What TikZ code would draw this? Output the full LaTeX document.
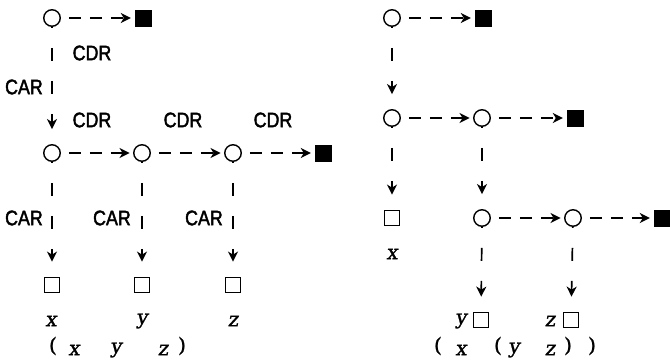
\documentclass[tikz,border=0pt]{standalone}
\usepackage{fontspec}
\usetikzlibrary{arrows.meta}
\newfontfamily\labfont[FakeStretch=0.85,FakeBold=2]{Liberation Sans}
\newfontfamily\varfont[FakeSlant=0.15,FakeBold=1.2]{DejaVu Serif}
\newfontfamily\parfont[FakeBold=1.5]{DejaVu Serif}
\begin{document}
\begin{tikzpicture}[x=1pt,y=-1pt,
  cell/.style={circle,draw,line width=1.4pt,minimum size=16.5pt,inner sep=0pt},
  nilbox/.style={rectangle,fill=black,minimum size=17pt,inner sep=0pt},
  atom/.style={rectangle,draw,line width=1.8pt,minimum size=15pt,inner sep=0pt},
  tip/.style={-{Stealth[length=10pt,width=10pt,inset=3pt]}},
  hlink/.style={tip,line width=1.7pt,dash pattern=on 12pt off 9pt,dash phase=13pt,shorten >=3.5pt},
  vlink/.style={tip,line width=1.7pt,dash pattern=on 13pt off 20pt,dash phase=12pt,shorten >=15pt},
  lab/.style={font=\labfont\fontsize{21}{21}\selectfont,inner sep=0pt},
  var/.style={font=\varfont\fontsize{20}{20}\selectfont,inner sep=0pt},
  par/.style={font=\parfont\fontsize{20}{20}\selectfont,inner sep=0pt}]
\useasboundingbox (0,0) rectangle (670,364);
% ---------- left: (x y z)
\node[cell] (L1) at (52,18) {};
\node[nilbox] (L1s) at (143,18) {};
\node[cell] (L2a) at (52,153) {};
\node[cell] (L2b) at (142,153) {};
\node[cell] (L2c) at (233,153) {};
\node[nilbox] (L2s) at (323,153) {};
\node[atom] (La) at (52,285) {};
\node[atom] (Lb) at (142,285) {};
\node[atom] (Lc) at (233,285) {};
\draw[hlink] (L1) -- (L1s);
\draw[hlink] (L2a) -- (L2b);
\draw[hlink] (L2b) -- (L2c);
\draw[hlink] (L2c) -- (L2s);
\draw[vlink] (L1) -- (L2a);
\draw[vlink] (L2a) -- (La);
\draw[vlink] (L2b) -- (Lb);
\draw[vlink] (L2c) -- (Lc);
\node[lab] (t1) at (92,53) {CDR};
\node[lab,anchor=east] (t2) at (43,87) {CAR};
\node[lab] (t3) at (92,120) {CDR};
\node[lab] (t4) at (183,120) {CDR};
\node[lab] (t5) at (273,120) {CDR};
\node[lab,anchor=east] (t6) at (43,218) {CAR};
\node[lab,anchor=east] (t7) at (131,218) {CAR};
\node[lab,anchor=east] (t8) at (223,218) {CAR};
\node[var] (vx) at (51,321) {x};
\node[var] (vy) at (142,321) {y};
\node[var] (vz) at (233,321) {z};
\node[par] (p1) at (53,346) {(};
\node[var] (e1) at (74,350) {x};
\node[var] (e2) at (116,350) {y};
\node[var] (e3) at (163,350) {z};
\node[par] (p2) at (182,346) {)};
% ---------- right: (x (y z))
\node[cell] (R1) at (392,18) {};
\node[nilbox] (R1s) at (483,18) {};
\node[cell] (R2a) at (392,118) {};
\node[cell] (R2b) at (482,118) {};
\node[nilbox] (R2s) at (575,118) {};
\node[atom] (Rx) at (392,218) {};
\node[cell] (R3a) at (482,218) {};
\node[cell] (R3b) at (573,218) {};
\node[nilbox] (R3s) at (662,218) {};
\node[atom] (Ry) at (481,320) {};
\node[atom] (Rz) at (571,320) {};
\draw[hlink] (R1) -- (R1s);
\draw[hlink] (R2a) -- (R2b);
\draw[hlink] (R2b) -- (R2s);
\draw[hlink] (R3a) -- (R3b);
\draw[hlink] (R3b) -- (R3s);
\draw[vlink] (R1) -- (R2a);
\draw[vlink] (R2a) -- (Rx);
\draw[vlink] (R2b) -- (R3a);
\draw[vlink] (R3a) -- (Ry);
\draw[vlink] (R3b) -- (Rz);
\node[var] (wx) at (392,254) {x};
\node[var] (wy) at (461,321) {y};
\node[var] (wz) at (550,321) {z};
\node[par] (q1) at (438,346) {(};
\node[var] (f1) at (461,350) {x};
\node[par] (q2) at (498,346) {(};
\node[var] (f2) at (514,350) {y};
\node[var] (f3) at (550,350) {z};
\node[par] (q3) at (568,346) {)};
\node[par] (q4) at (592,346) {)};
\end{tikzpicture}
\end{document}
